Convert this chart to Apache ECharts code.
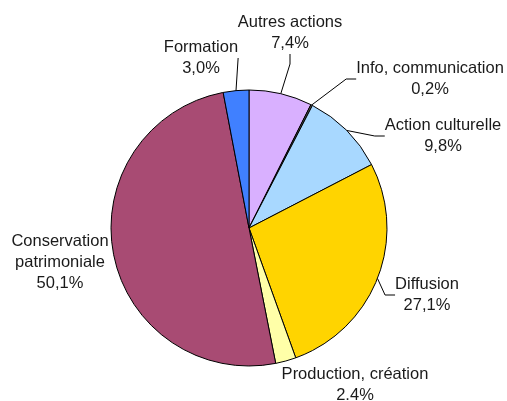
<!DOCTYPE html>
<html><head><meta charset="utf-8">
<script src="https://cdn.jsdelivr.net/npm/echarts@6/dist/echarts.min.js"></script>
<style>html,body{margin:0;padding:0;background:#fff}#c{width:507px;height:401px}</style>
</head><body><div id="c"></div>
<script>
const categories = ['Autres actions','Info, communication','Action culturelle','Diffusion','Production, création','Conservation patrimoniale','Formation'];
const values = [7.4, 0.2, 9.8, 27.1, 2.4, 50.1, 3.0];
const valueLabels = ['7,4%','0,2%','9,8%','27,1%','2.4%','50,1%','3,0%'];
const nameLabels = ['Autres actions','Info, communication','Action culturelle','Diffusion','Production, création','Conservation\npatrimoniale','Formation'];
const colors = ['#D9B0FF','#555555','#A8D8FF','#FFD400','#FFFFA8','#A84B73','#4080FF'];
const showLines = [true, true, true, true, false, false, true];
const labelPos = [[290,33],[430,79],[443,136],[427,295],[355,385],[60,262],[201,58]];

const chart = echarts.init(document.getElementById('c'));
chart.setOption({
  animation:false,
  series:[{
    type:'pie',
    center:[249,228],
    radius:138,
    startAngle:90,
    clockwise:true,
    avoidLabelOverlap:false,
    itemStyle:{borderColor:'#000',borderWidth:1},
    label:{
      show:true, color:'#1a1a1a', fontFamily:'Liberation Sans, Arial, sans-serif', fontSize:16.5, lineHeight:21, align:'center',
      formatter:p => nameLabels[p.dataIndex] + '\n' + valueLabels[p.dataIndex]
    },
    labelLine:{show:true, length:10, length2:10, lineStyle:{color:'#000',width:1}},
    labelLayout:p => ({x:labelPos[p.dataIndex][0], y:labelPos[p.dataIndex][1], align:'center', verticalAlign:'middle'}),
    data:categories.map((c,i)=>({name:c, value:values[i], itemStyle:{color:colors[i]}, labelLine:{show:showLines[i]}}))
  }]
});
</script></body></html>
